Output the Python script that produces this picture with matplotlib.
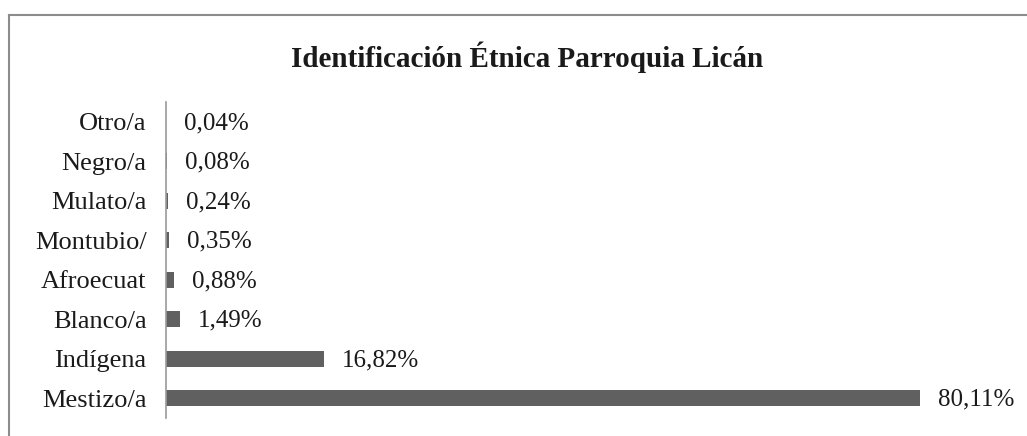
import matplotlib.pyplot as plt
from matplotlib.lines import Line2D

categorias = ["Mestizo/a", "Indígena", "Blanco/a", "Afroecuat", "Montubio/",
              "Mulato/a", "Negro/a", "Otro/a"]
porcentajes = [80.11, 16.82, 1.49, 0.88, 0.35, 0.24, 0.08, 0.04]
etiquetas = ["80,11%", "16,82%", "1,49%", "0,88%", "0,35%", "0,24%", "0,08%", "0,04%"]

plt.rcParams["font.family"] = ["Liberation Serif", "DejaVu Serif"]

W, H = 1027, 436
fig = plt.figure(figsize=(W / 100, H / 100), dpi=100)

# marco del grafico (solo asoma arriba y a la izquierda)
fig.add_artist(Line2D([9 / W, 9 / W], [0, 1 - 15 / H], transform=fig.transFigure,
                      color="#8c8c8c", lw=1.5))
fig.add_artist(Line2D([9 / W, 1], [1 - 15 / H, 1 - 15 / H], transform=fig.transFigure,
                      color="#8c8c8c", lw=1.5))

x0, x1 = 166, 1013
ax = fig.add_axes([x0 / W, 18 / H, (x1 - x0) / W, (418 - 102) / H])

y = range(len(categorias))
ax.barh(y, porcentajes, height=0.41, color="#606060")
ax.set_xlim(0, 90)
ax.set_ylim(-0.5, len(categorias) - 0.5)

for yi, v, t in zip(y, porcentajes, etiquetas):
    ax.annotate(t, (v, yi), xytext=(13, -1), textcoords="offset points",
                va="center", ha="left", fontsize=18, color="#1a1a1a")

ax.set_yticks(list(y))
ax.set_yticklabels(categorias, fontsize=19, color="#1a1a1a")
ax.tick_params(axis="y", length=0, pad=14)
ax.set_xticks([])

for s in ["top", "right", "bottom"]:
    ax.spines[s].set_visible(False)
ax.spines["left"].set_color("#9a9a9a")
ax.spines["left"].set_linewidth(1.2)

fig.text(0.513, 1 - 57 / H, "Identificación Étnica Parroquia Licán",
         ha="center", va="center", fontsize=21, fontweight="bold", color="#1a1a1a")

fig.savefig("out.png", dpi=100)
